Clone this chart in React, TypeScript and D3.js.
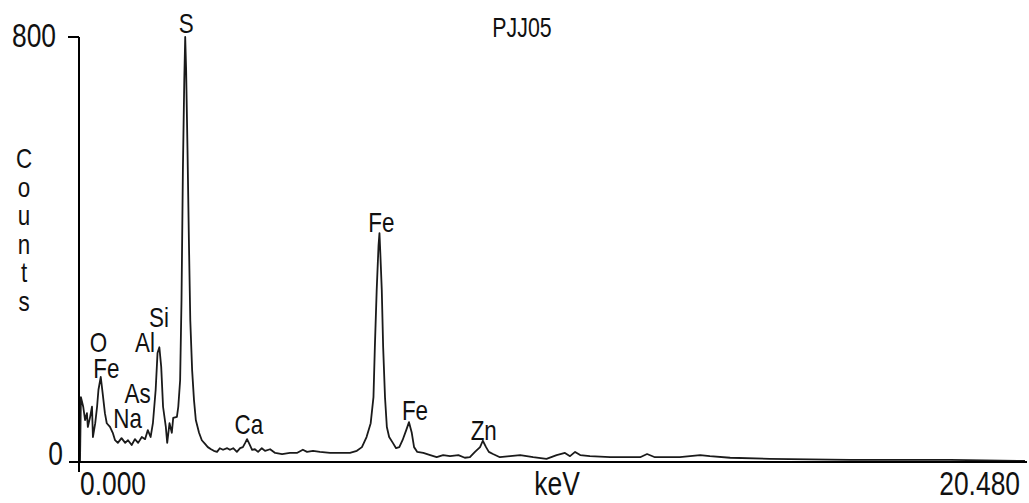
import React from "react";
import * as d3 from "d3";

// Spectrum: energy (keV) and counts
const energyKeV = [
  0.0, 0.02, 0.07, 0.11, 0.15, 0.17, 0.22, 0.26, 0.28, 0.33, 0.37, 0.4, 0.45, 0.49, 0.54, 0.58,
  0.65, 0.71, 0.76, 0.82, 0.9, 0.98, 1.04, 1.12, 1.19, 1.26, 1.34, 1.41, 1.47, 1.53, 1.58, 1.64,
  1.68, 1.72, 1.76, 1.8, 1.86, 1.89, 1.94, 1.99, 2.02, 2.1, 2.13, 2.17, 2.2, 2.23, 2.26, 2.28,
  2.3, 2.33, 2.36, 2.39, 2.43, 2.47, 2.51, 2.58, 2.64, 2.71, 2.77, 2.84, 2.9, 2.97, 3.03, 3.1,
  3.19, 3.25, 3.32, 3.4, 3.47, 3.53, 3.58, 3.62, 3.66, 3.73, 3.79, 3.86, 3.94, 4.01, 4.12, 4.23,
  4.38, 4.55, 4.7, 4.83, 4.92, 5.05, 5.2, 5.42, 5.64, 5.85, 6.0, 6.11, 6.21, 6.3, 6.36, 6.39,
  6.43, 6.47, 6.49, 6.51, 6.54, 6.57, 6.61, 6.65, 6.7, 6.78, 6.85, 6.92, 6.99, 7.07, 7.13, 7.19,
  7.24, 7.31, 7.44, 7.59, 7.73, 7.87, 8.02, 8.2, 8.34, 8.45, 8.56, 8.67, 8.73, 8.8, 8.86, 8.95,
  9.1, 9.32, 9.54, 9.82, 10.11, 10.33, 10.51, 10.62, 10.73, 10.84, 11.05, 11.49, 12.14, 12.29,
  12.46, 13.0, 13.44, 13.65, 14.09, 14.95, 16.69, 18.86, 20.48,
];
const counts = [
  0, 122, 104, 79, 92, 66, 85, 104, 47, 73, 104, 136, 160, 130, 92, 73,
  66, 55, 41, 36, 45, 36, 41, 32, 43, 36, 47, 43, 60, 47, 73, 136,
  205, 216, 179, 104, 66, 36, 73, 55, 83, 85, 104, 154, 305, 550, 719, 800,
  738, 587, 418, 267, 173, 117, 79, 55, 41, 34, 28, 24, 21, 19, 26, 23,
  26, 23, 26, 19, 26, 28, 36, 43, 36, 23, 24, 19, 26, 21, 24, 17,
  15, 17, 17, 23, 19, 21, 19, 17, 17, 17, 21, 28, 47, 73, 122, 216,
  324, 408, 431, 390, 324, 216, 122, 66, 47, 36, 26, 28, 41, 60, 75, 55,
  28, 19, 17, 13, 9, 13, 11, 13, 8, 9, 19, 28, 40, 28, 19, 15,
  9, 11, 13, 9, 6, 13, 17, 11, 19, 13, 11, 9, 9, 15,
  9, 9, 13, 11, 8, 6, 4, 4, 2,
];

// Peak annotations (element, keV, counts of the label anchor)
const peakNames = ["S", "Si", "Al", "O", "Fe", "As", "Na", "Ca", "Fe", "Fe", "Zn"];
const peakKeV = [2.3, 1.71, 1.41, 0.4, 0.57, 1.25, 1.03, 3.66, 6.53, 7.26, 8.75];
const peakCounts = [807, 254, 207, 207, 158, 111, 64, 53, 433, 79, 41];

const yTickValues = [0, 800];
const xTickValues = [0, 20.48];
const xTickLabels = ["0.000", "20.480"];
const title = "PJJ05";
const xTitle = "keV";
const yTitle = "Counts";

const W = 1029;
const H = 503;
const FONT = "'Liberation Sans', Arial, sans-serif";

function Label({ x, y, text, size, sx, anchor = "middle", color = "#111" }: any) {
  return (
    <text
      transform={`translate(${x},${y}) scale(${sx},1)`}
      textAnchor={anchor}
      fontFamily={FONT}
      fontSize={size}
      fill={color}
    >
      {text}
    </text>
  );
}

export default function App() {
  const x = d3.scaleLinear().domain([0, 20.48]).range([80, 1025]);
  const y = d3.scaleLinear().domain([0, 800]).range([462, 37]);
  const pts = energyKeV.map((e, i) => [e, counts[i]] as [number, number]);
  const line = d3
    .line<[number, number]>()
    .x((d) => x(d[0]))
    .y((d) => y(d[1]));

  const axisX0 = x(0) - 1;
  const axSize = 33;
  const axSx = 0.8;
  const lblSize = 27;
  const lblSx = 0.83;

  return (
    <svg
      width={W}
      height={H}
      style={{ position: "absolute", left: 0, top: 0, display: "block", background: "#fff" }}
    >
      <rect width={W} height={H} fill="#fff" />
      {/* spectrum */}
      <path d={line(pts) || ""} fill="none" stroke="#1a1a1a" strokeWidth={1.8} strokeLinejoin="round" />
      {/* axes */}
      <line x1={axisX0} x2={axisX0} y1={y(800)} y2={y(0) + 10} stroke="#000" strokeWidth={2} />
      <line x1={axisX0 - 10} x2={1027} y1={y(0)} y2={y(0)} stroke="#000" strokeWidth={2.2} />
      <line x1={axisX0 - 11} x2={axisX0} y1={y(800)} y2={y(800)} stroke="#000" strokeWidth={2} />
      {/* y tick labels */}
      {yTickValues.map((v) => (
        <Label key={v} x={v === 0 ? 63 : 56} y={y(v) + (v === 0 ? 3 : 10)} text={String(v)} size={axSize} sx={axSx} anchor="end" />
      ))}
      {/* x tick labels */}
      {xTickValues.map((v, i) => (
        <Label
          key={v}
          x={i === 0 ? x(v) : x(v) - 5}
          y={495}
          text={xTickLabels[i]}
          size={axSize}
          sx={axSx}
          anchor={i === 0 ? "start" : "end"}
        />
      ))}
      <Label x={557} y={495} text={xTitle} size={axSize} sx={axSx} />
      {/* vertical stacked y title */}
      {yTitle.split("").map((ch, i) => (
        <Label key={i} x={24} y={168 + i * 28.5} text={ch} size={lblSize} sx={lblSx} />
      ))}
      <Label x={522} y={37} text={title} size={27} sx={0.79} />
      {/* peak labels */}
      {peakNames.map((n, i) => (
        <Label key={i} x={x(peakKeV[i])} y={y(peakCounts[i])} text={n} size={lblSize} sx={lblSx} />
      ))}
    </svg>
  );
}
